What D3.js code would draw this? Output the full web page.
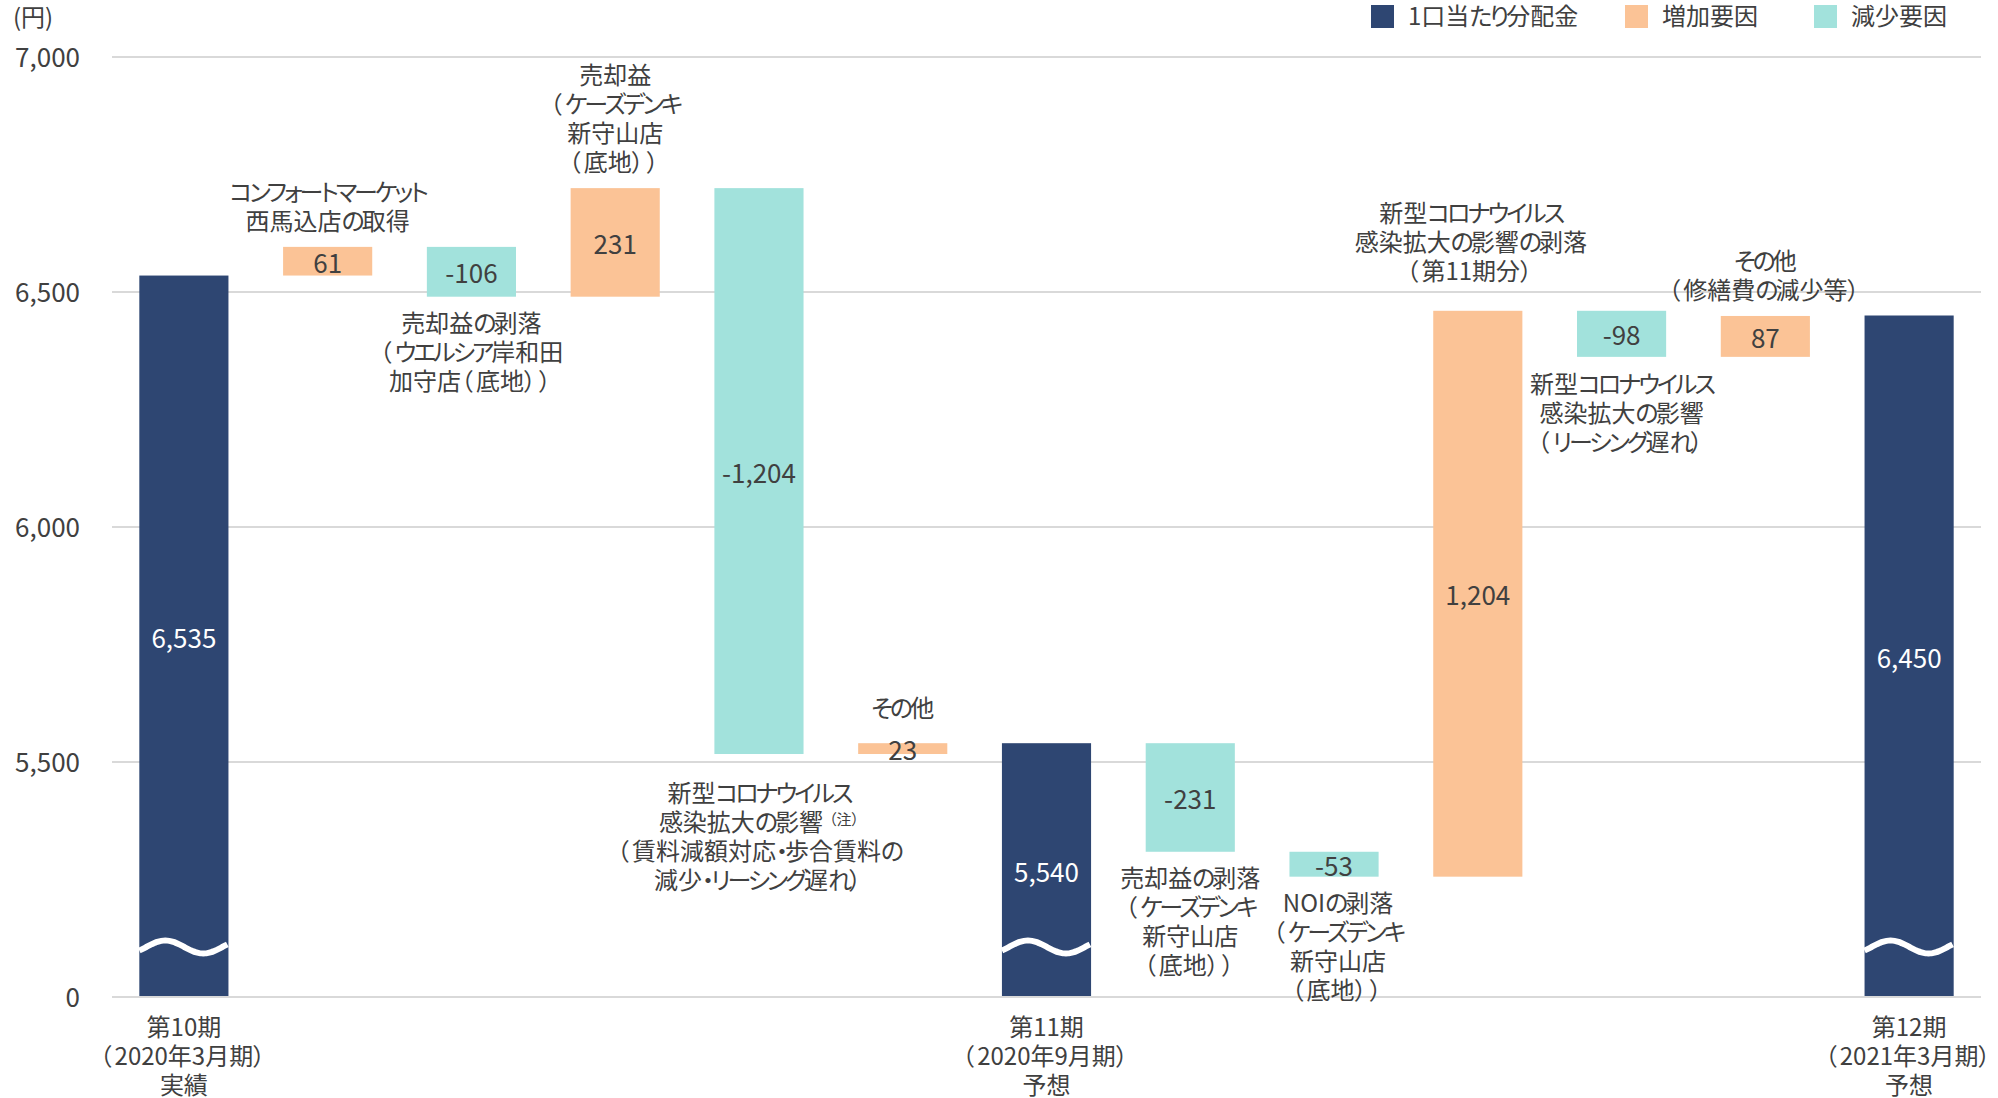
<!DOCTYPE html>
<html><head><meta charset="utf-8">
<script src="https://cdn.jsdelivr.net/npm/d3@7"></script>
<style>
html,body{margin:0;padding:0;background:#fff;}
svg text{font-family:"Noto Sans CJK JP","Noto Sans",sans-serif;font-feature-settings:"palt";}
</style></head><body>
<svg id="chart" width="1998" height="1098"></svg>
<script>
// ---------- DATA ----------
const stepIds = ["第10期","西馬込店の取得","売却益の剥落(ウエルシア)","売却益(ケーズデンキ)","コロナ影響","その他(第11期)","第11期","売却益の剥落(ケーズデンキ)","NOIの剥落","コロナ影響の剥落","リーシング遅れ","その他(第12期)","第12期"];
const stepValues = [6535, 61, -106, 231, -1204, 23, 5540, -231, -53, 1204, -98, 87, 6450];
const stepKinds = ["total","inc","dec","inc","dec","inc","total","dec","dec","inc","dec","inc","total"];
const stepNotes = [
  [],
  ["コンフォートマーケット","西馬込店の取得"],
  ["売却益の剥落","（ウエルシア岸和田","加守店（底地））"],
  ["売却益","（ケーズデンキ","新守山店","（底地））"],
  ["新型コロナウイルス","感染拡大の影響^（注）","（賃料減額対応・歩合賃料の","減少・リーシング遅れ）"],
  ["その他"],
  [],
  ["売却益の剥落","（ケーズデンキ","新守山店","（底地））"],
  ["NOIの剥落","（ケーズデンキ","新守山店","（底地））"],
  ["新型コロナウイルス","感染拡大の影響の剥落","（第11期分）"],
  ["新型コロナウイルス","感染拡大の影響","（リーシング遅れ）"],
  ["その他","（修繕費の減少等）"],
  []
];
const periodLabels = [
  ["第10期","（2020年3月期）","実績"],
  ["第11期","（2020年9月期）","予想"],
  ["第12期","（2021年3月期）","予想"]
];
const yTicks = [0, 5500, 6000, 6500, 7000];
const legendLabels = ["1口当たり分配金","増加要因","減少要因"];
const unitLabel = "(円)";

// ---------- LAYOUT / STYLE ----------
const colors = {total:"#2E4672", inc:"#FBC396", dec:"#A2E2DC"};
const textColor = "#404040";
const gridColor = "#D9D9D9";
const fs = 24, numFs = 26, lineH = 29;
const noteShift = [0,0,0,0,12,-9,0,0,0,-13,0,0,0];
const noteShiftX = [0,0,0,0,0,0,0,0,4,-7,0,0,0];

const svg = d3.select("#chart");
const x = d3.scaleBand().domain(stepIds).range([112,1981]).paddingInner(0.38).paddingOuter(0.19);
// broken axis: 0 is drawn one grid step below 5,500
const y = d3.scaleLinear().domain([0,5000,7000]).range([997,997,57]);
const loc = d3.formatLocale({decimal:".",thousands:",",grouping:[3],currency:["",""],minus:"-"});
const fmt = loc.format(",");

// text helper: narrower kana, slightly wider full-width parens (closer to the original UI font)
function charClass(c){
  const code = c.codePointAt(0);
  if (code >= 0x3040 && code <= 0x30FF) return "kana";
  if (c === "（" || c === "）") return "paren";
  return "other";
}
const spacing = {kana:-3, paren:3, other:0};
function richText(sel, str){
  let runs = [];
  for (const c of str){
    const k = charClass(c);
    if (runs.length && runs[runs.length-1].k === k) runs[runs.length-1].s += c;
    else runs.push({k, s:c});
  }
  runs.forEach(r=>{
    const t = sel.append("tspan").text(r.s);
    if (spacing[r.k]) t.attr("letter-spacing", spacing[r.k]);
  });
  return sel;
}

// waterfall
let run = 0;
const steps = stepIds.map((id,i)=>{
  const v = stepValues[i], k = stepKinds[i];
  let a, b;
  if (k === "total") { a = 0; b = v; run = v; }
  else { a = run; b = run + v; run = b; }
  return {id, v, k, lo:Math.min(a,b), hi:Math.max(a,b), notes:stepNotes[i], i};
});

// gridlines (except baseline)
svg.append("g").selectAll("line").data(yTicks.filter(t=>t!==0)).join("line")
  .attr("x1",112).attr("x2",1981).attr("y1",d=>y(d)).attr("y2",d=>y(d))
  .attr("stroke",gridColor).attr("stroke-width",2);

// bars
svg.append("g").selectAll("rect").data(steps).join("rect")
  .attr("x",d=>x(d.id)).attr("width",x.bandwidth())
  .attr("y",d=>y(d.hi)).attr("height",d=>y(d.lo)-y(d.hi)+(d.k==="total"?1:0))
  .attr("fill",d=>colors[d.k]);

// baseline on top
svg.append("line").attr("x1",112).attr("x2",1981).attr("y1",y(0)).attr("y2",y(0))
  .attr("stroke",gridColor).attr("stroke-width",2);

// axis break waves
const bw = x.bandwidth();
const wave = d3.line().curve(d3.curveBasis);
steps.filter(d=>d.k==="total").forEach(d=>{
  const x0 = x(d.id), cy = y(0) - 50;
  const pts = d3.range(0, bw+0.5, 2).map(px=>[x0+px, cy - 6.5*Math.sin(2*Math.PI*(px-26)/76 + Math.PI/2)]);
  svg.append("path").attr("d",wave(pts)).attr("fill","none").attr("stroke","#fff").attr("stroke-width",6);
});

// y axis
const ax = svg.append("g").attr("transform","translate(112,0)")
  .call(d3.axisLeft(y).tickValues(yTicks).tickSize(0).tickPadding(32).tickFormat(fmt));
ax.select(".domain").remove();
ax.selectAll("text").attr("font-size",numFs).attr("fill",textColor)
  .style("font-family",'"Noto Sans CJK JP",sans-serif').attr("dy","0.36em");

// unit
svg.append("text").attr("x",13).attr("y",17).attr("dy","0.36em").attr("font-size",fs)
  .attr("fill",textColor).text(unitLabel);

// value labels
svg.append("g").selectAll("text").data(steps).join("text")
  .attr("x",d=>x(d.id)+bw/2)
  .attr("y",d=>(y(d.lo)+y(d.hi))/2)
  .attr("dy","0.44em").attr("text-anchor","middle").attr("font-size",numFs)
  .attr("fill",d=>d.k==="total"?"#fff":textColor)
  .text(d=>fmt(d.v));

// notes
steps.filter(d=>d.notes.length).forEach(d=>{
  const cx = x(d.id)+bw/2 + noteShiftX[d.i];
  const n = d.notes.length;
  let first;
  if (d.v > 0) first = y(d.hi) - 27 - (n-1)*lineH + noteShift[d.i];
  else first = y(d.lo) + 26 + noteShift[d.i];
  d.notes.forEach((ln,j)=>{
    const t = svg.append("text").attr("x",cx).attr("y",first + j*lineH + 1).attr("dy","0.36em")
      .attr("text-anchor","middle").attr("font-size",fs).attr("fill",textColor);
    const parts = ln.split("^");
    richText(t, parts[0]);
    if (parts[1]) t.append("tspan").attr("font-size",15).attr("dx",6).attr("dy",-6).text(parts[1]);
  });
});

// period labels under total bars
steps.filter(d=>d.k==="total").forEach((d,j)=>{
  const cx = x(d.id)+bw/2;
  periodLabels[j].forEach((ln,k)=>{
    const t = svg.append("text").attr("x",cx).attr("y",y(0)+30+k*lineH).attr("dy","0.36em")
      .attr("text-anchor","middle").attr("font-size",fs).attr("fill",textColor);
    richText(t, ln);
  });
});

// legend
const legX = [1371,1625,1814];
const legKinds = ["total","inc","dec"];
legendLabels.forEach((lab,i)=>{
  svg.append("rect").attr("x",legX[i]).attr("y",5).attr("width",23).attr("height",23).attr("fill",colors[legKinds[i]]);
  const t = svg.append("text").attr("x",legX[i]+37).attr("y",16.5).attr("dy","0.36em").attr("font-size",fs)
    .attr("fill",textColor);
  richText(t, lab);
});
</script>
</body></html>
